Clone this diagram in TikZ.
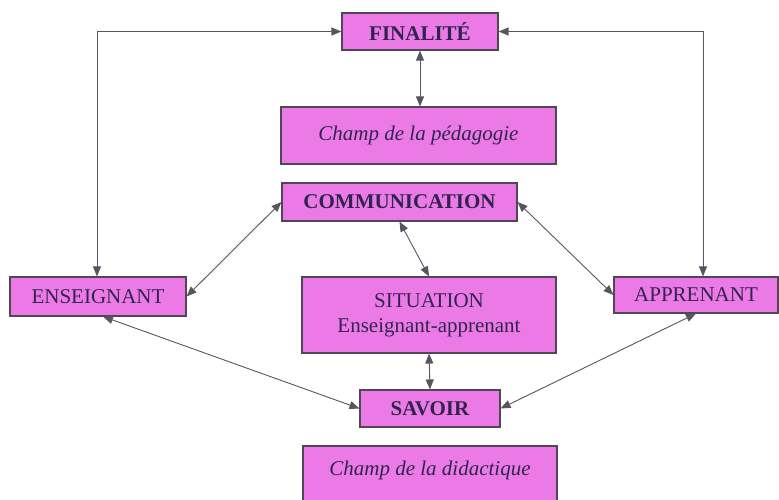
\documentclass[tikz,border=0pt]{standalone}
\usepackage{fontspec}
\setmainfont{Liberation Serif}
\usetikzlibrary{arrows.meta}

\definecolor{boxpink}{RGB}{236,122,230}
\definecolor{boxline}{RGB}{80,70,85}
\definecolor{inktext}{RGB}{48,36,78}
\definecolor{linkgray}{RGB}{90,84,96}

\begin{document}
\begin{tikzpicture}[x=1pt, y=-1pt, font=\fontsize{21}{25}\selectfont,
	pinkbox/.style={draw=boxline, line width=1.1pt, fill=boxpink, text=inktext,
		inner sep=0pt, align=center},
	link/.style={draw=linkgray, line width=0.9pt,
		{Triangle[length=10pt,width=8pt]}-{Triangle[length=10pt,width=8pt]}}]
			
			% ------------------------------------------------------------
			% Frame
			% ------------------------------------------------------------
			
			\useasboundingbox (0,0) rectangle (779,500);
			\clip (0,0) rectangle (779,500);
			
			% ------------------------------------------------------------
			% Boxes
			% ------------------------------------------------------------
			
			\node[pinkbox, minimum width=156pt, minimum height=37pt] (fin) at (420,31.5)
			{\textbf{FINALITÉ}};
			
			\node[pinkbox, minimum width=275pt, minimum height=57pt] (pedag) at (418.5,135.5)
			{\textit{Champ de la pédagogie}};
			
			\node[pinkbox, minimum width=235pt, minimum height=38pt] (comm) at (399.5,202)
			{\textbf{COMMUNICATION}};
			
			\node[pinkbox, minimum width=176pt, minimum height=39pt] (ens) at (98,296.5)
			{ENSEIGNANT};
			
			\node[pinkbox, minimum width=254pt, minimum height=76pt] (sit) at (429,315)
			{SITUATION\\Enseignant-apprenant};
			
			\node[pinkbox, minimum width=164pt, minimum height=36pt] (app) at (696,295)
			{APPRENANT};
			
			\node[pinkbox, minimum width=140pt, minimum height=37pt] (sav) at (430,408.5)
			{\textbf{SAVOIR}};
			
			\node[pinkbox, minimum width=254pt, minimum height=88pt] (did) at (430,490)
			{\textit{Champ de la didactique}\\[19pt]};
			
			% ------------------------------------------------------------
			% Connecting arrows
			% ------------------------------------------------------------
			
			\draw[link] (fin.south) -- (fin.south |- pedag.north);
			
			\draw[link] (fin.west) -| ([xshift=-1pt]ens.north);
			
			\draw[link] (fin.east) -| ([xshift=7pt]app.north);
			
			\draw[link] (ens.east) -- (comm.west);
			
			\draw[link] (comm.east) -- (app.west);
			
			\draw[link] (comm.south) -- (sit.north);
			
			\draw[link] ([xshift=5pt]ens.south) -- (sav.west);
			
			\draw[link] (app.south) -- (sav.east);
			
			\draw[link] (sit.south) -- (sav.north);
		\end{tikzpicture}
\end{document}
